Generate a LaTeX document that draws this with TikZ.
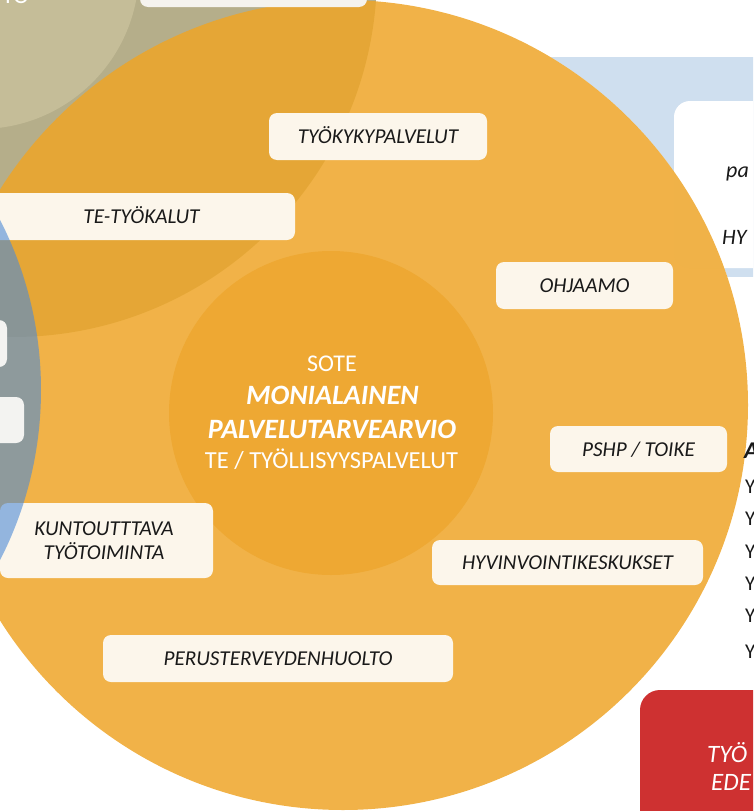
\documentclass[tikz,border=0pt]{standalone}
\usepackage{fontspec}
\setmainfont{Carlito}
\definecolor{orng}{RGB}{238,165,40}
\definecolor{orngin}{RGB}{238,168,51}
\definecolor{olivec}{RGB}{181,174,138}
\definecolor{olivelt}{RGB}{197,189,152}
\definecolor{bluec}{RGB}{77,139,214}
\definecolor{bandc}{RGB}{207,223,239}
\definecolor{cream}{RGB}{252,246,235}
\definecolor{boxgray}{RGB}{243,243,241}
\definecolor{topbox}{RGB}{245,243,238}
\definecolor{redbox}{RGB}{206,49,49}
\definecolor{txt}{RGB}{25,25,25}
\newcommand\lblfont{\fontsize{21.2}{25}\selectfont\itshape}
\begin{document}
\begin{tikzpicture}[x=1pt,y=-1pt,
  lblbox/.style={fill=cream, rounded corners=8pt, font=\lblfont, text=txt,
    inner sep=0pt, text height=14pt, text depth=0pt},
  sidebox/.style={fill=boxgray, rounded corners=8pt},
  centertxt/.style={text=white, anchor=base, inner sep=0pt},
  edgetxt/.style={anchor=base west, inner sep=0pt, text=txt}]
\useasboundingbox (0,0) rectangle (753,811);
\begin{scope}
\clip (0,0) rectangle (753,811);
% light blue band (outside the big circle) and white panel
\begin{scope}
  \clip (480,57) rectangle (760,276);
  \fill[bandc, even odd rule] (-100,-100) rectangle (900,900) (343,405) circle[radius=405];
\end{scope}
\fill[white, rounded corners=16pt] (674,101) rectangle (800,268);
% olive circles
\fill[olivec] (13,-27) circle[radius=364];
\fill[olivelt] (-20,-30) circle[radius=159];
% big orange circle
\fill[orng, fill opacity=0.85] (343,405) circle[radius=405];
% inner circle
\fill[orngin] (331,413) circle[radius=162];
% top white box
\fill[topbox, rounded corners=8pt] (140,-20) rectangle (367,7);
\node[text=white, anchor=base west, inner sep=0pt, font=\fontsize{24}{28}\selectfont] (tl) at (2,3) {TO};
% labelled boxes
\node[lblbox, minimum width=218pt, minimum height=47pt] (tyokyky) at (378,136.5) {TYÖKYKYPALVELUT};
\node[lblbox, minimum width=307pt, minimum height=47pt] (tetyo) at (141.5,216.5) {TE-TYÖKALUT};
\node[lblbox, minimum width=177pt, minimum height=47pt] (ohjaamo) at (584.5,285.5) {OHJAAMO};
\node[lblbox, minimum width=177pt, minimum height=46pt] (pshp) at (638.5,449) {PSHP / TOIKE};
\node[lblbox, minimum width=271pt, minimum height=45pt] (hyvin) at (567.5,562.5) {HYVINVOINTIKESKUKSET};
\node[lblbox, minimum width=350pt, minimum height=47pt] (perus) at (278,658.5) {PERUSTERVEYDENHUOLTO};
\node[fill=cream, rounded corners=8pt, minimum width=213pt, minimum height=75pt, inner sep=0pt] (kunto) at (106.5,540.5) {};
\node[edgetxt, anchor=base, font=\lblfont] (kunto1) at (104,535) {KUNTOUTTTAVA};
\node[edgetxt, anchor=base, font=\lblfont] (kunto2) at (104,559) {TYÖTOIMINTA};
% blue circle on top
\fill[bluec, fill opacity=0.6] (-332,390) circle[radius=373];
\fill[sidebox] (-20,320) rectangle (7,367);
\fill[sidebox] (-20,397) rectangle (24,443);
% red box
\fill[redbox, rounded corners=20pt] (640,690) rectangle (820,860);
\node[anchor=base west, inner sep=0pt, text=white, font=\fontsize{25}{30}\selectfont\itshape] (red1) at (707,762) {TYÖ};
\node[anchor=base west, inner sep=0pt, text=white, font=\fontsize{25}{30}\selectfont\itshape] (red2) at (711,790) {EDE};
% right side texts
\node[edgetxt, font=\fontsize{22}{26}\selectfont\itshape] (pa) at (726,177) {pa};
\node[edgetxt, font=\fontsize{22}{26}\selectfont\itshape] (hy) at (722,244) {HY};
\node[edgetxt, font=\fontsize{24}{28}\selectfont\bfseries\itshape] (aa) at (744,458) {A};
\foreach \yy/\nm in {493/y1,525/y2,558/y3,590/y4,622/y5,658/y6}
  \node[edgetxt, font=\fontsize{21}{24}\selectfont] (\nm) at (745,\yy) {Y};
% centre text
\node[centertxt, font=\fontsize{24}{28}\selectfont] (sote) at (332,371) {SOTE};
\node[centertxt, font=\fontsize{28}{32}\selectfont\bfseries\itshape] (moni) at (332.5,404) {MONIALAINEN};
\node[centertxt, font=\fontsize{28}{32}\selectfont\bfseries\itshape] (palv) at (332,438) {PALVELUTARVEARVIO};
\node[centertxt, font=\fontsize{24.5}{28}\selectfont] (tetp) at (331.5,468) {TE / TYÖLLISYYSPALVELUT};
\end{scope}
\end{tikzpicture}
\end{document}
